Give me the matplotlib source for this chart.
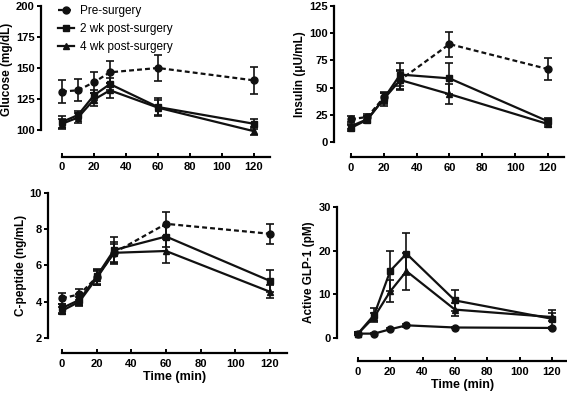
import numpy as np
import matplotlib.pyplot as plt

plt.rcParams['font.family'] = ['Liberation Sans', 'DejaVu Sans']

time_min = [0, 10, 20, 30, 60, 120]
labels = ["Pre-surgery", "2 wk post-surgery", "4 wk post-surgery"]

# glucose (mg/dL)
glu_pre = [131, 132, 138.5, 146.5, 150, 140]
glu_pre_err = [9.5, 9, 8.5, 9, 10.5, 11]
glu_2wk = [106.5, 112, 128, 137, 118.5, 105]
glu_2wk_err = [5, 3, 4, 5, 7, 4]
glu_4wk = [105, 110, 124.5, 132, 118, 99]
glu_4wk_err = [4, 4, 5, 6, 6, 3]

# insulin (uU/mL)
ins_pre = [21, 23, 41, 57, 90, 67]
ins_pre_err = [3, 3, 5, 8, 11.5, 10]
ins_2wk = [13, 20.5, 40, 62, 58.5, 19]
ins_2wk_err = [2.5, 3, 5, 10.5, 14, 3]
ins_4wk = [14.5, 21, 39.5, 57, 44, 16.5]
ins_4wk_err = [2.5, 3, 6, 9, 9, 2.5]

# C-peptide (ng/mL)
cp_pre = [4.2, 4.4, 5.35, 6.7, 8.3, 7.75]
cp_pre_err = [0.3, 0.3, 0.4, 0.6, 0.65, 0.55]
cp_2wk = [3.65, 4.1, 5.4, 6.85, 7.6, 5.15]
cp_2wk_err = [0.25, 0.3, 0.4, 0.7, 0.6, 0.6]
cp_4wk = [3.5, 4.0, 5.3, 6.7, 6.8, 4.55]
cp_4wk_err = [0.2, 0.25, 0.4, 0.5, 0.65, 0.35]

# active GLP-1 (pM)
glp_pre = [1.0, 1.0, 2.0, 2.9, 2.4, 2.3]
glp_pre_err = [0.1, 0.1, 0.2, 0.3, 0.2, 0.2]
glp_2wk = [1.0, 5.3, 15.4, 19.3, 8.6, 4.4]
glp_2wk_err = [0.3, 1.6, 4.6, 4.8, 2.4, 2.0]
glp_4wk = [1.0, 4.8, 10.7, 15.3, 6.5, 4.8]
glp_4wk_err = [0.3, 1.0, 2.5, 4.2, 1.5, 1.0]

fig = plt.figure(figsize=(5.67, 3.96), dpi=100)
PX = 72 / 100.  # pixels -> points

def panel(rect, data, ylim, yticks, ylabel, off_left, off_bottom, xlabel=None, pre_dashed=True):
  ax = fig.add_axes(rect)
  styles = [('o', (0, (2.2, 1.4)) if pre_dashed else '-'), ('s', '-'), ('^', '-')]
  handles = []
  for (y, err), (mk, ls) in zip(data, styles):
    h = ax.errorbar(time_min, y, yerr=err, color='#111111', marker=mk, ms=5,
                    ls=ls, lw=1.6, elinewidth=1.2, capsize=3, capthick=1.2,
                    clip_on=False)
    handles.append(h[0])
  ax.set_xlim(0, 130)
  ax.set_ylim(*ylim)
  ax.set_xticks([0, 20, 40, 60, 80, 100, 120])
  ax.set_yticks(yticks)
  for s in ['top', 'right']:
    ax.spines[s].set_visible(False)
  ax.spines['left'].set_position(('outward', off_left * PX))
  ax.spines['bottom'].set_position(('outward', off_bottom * PX))
  ax.spines['left'].set_bounds(yticks[0], yticks[-1])
  for s in ['left', 'bottom']:
    ax.spines[s].set_linewidth(1.6)
  ax.tick_params(axis='y', width=1.4, length=3, pad=1.5, labelsize=8)
  ax.tick_params(axis='x', direction='in', width=1.4, length=3, pad=4, labelsize=8)
  for t in ax.get_xticklabels() + ax.get_yticklabels():
    t.set_fontweight('bold')
  ax.set_ylabel(ylabel, fontsize=8.5, fontweight='bold', labelpad=2)
  if xlabel:
    ax.set_xlabel(xlabel, fontsize=9, fontweight='bold', labelpad=2)
  return ax, handles

ax1, hs = panel([0.1093, 0.6624, 0.3668, 0.3225],
                [(glu_pre, glu_pre_err), (glu_2wk, glu_2wk_err), (glu_4wk, glu_4wk_err)],
                (97, 200), [100, 125, 150, 175, 200], 'Glucose (mg/dL)', 21, 23)
ax1.legend(hs, labels, loc='upper left', bbox_to_anchor=(-0.06, 1.07), frameon=False,
           fontsize=8.5, handlelength=1.4, handletextpad=0.5, labelspacing=0.5, borderpad=0.2)

panel([0.619, 0.6414, 0.3764, 0.3434],
      [(ins_pre, ins_pre_err), (ins_2wk, ins_2wk_err), (ins_4wk, ins_4wk_err)],
      (0, 125), [0, 25, 50, 75, 100, 125], 'Insulin (μU/mL)', 17, 15)

panel([0.1093, 0.1465, 0.3974, 0.3661],
      [(cp_pre, cp_pre_err), (cp_2wk, cp_2wk_err), (cp_4wk, cp_4wk_err)],
      (2, 10), [2, 4, 6, 8, 10], 'C-peptide (ng/mL)', 14, 15, xlabel='Time (min)')

panel([0.6314, 0.1465, 0.3704, 0.3308],
      [(glp_pre, glp_pre_err), (glp_2wk, glp_2wk_err), (glp_4wk, glp_4wk_err)],
      (0, 30), [0, 10, 20, 30], 'Active GLP-1 (pM)', 21, 23, xlabel='Time (min)',
      pre_dashed=False)

fig.savefig('out.png', dpi=100)
